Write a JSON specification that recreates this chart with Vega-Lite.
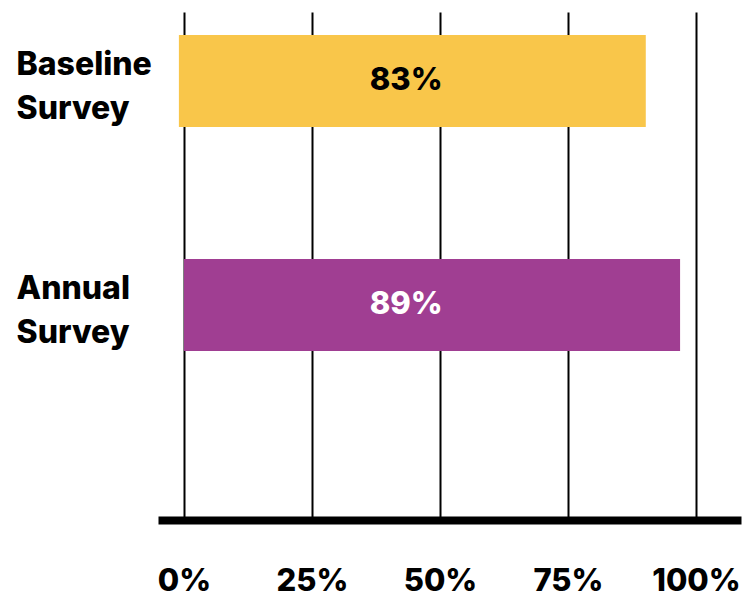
{
  "$schema": "https://vega.github.io/schema/vega-lite/v6.json",
  "autosize": {"type": "none"},
  "padding": {"left": 158, "top": 12, "right": 13, "bottom": 74},
  "width": 583,
  "height": 508,
  "background": "white",
  "config": {
    "view": {"stroke": null},
    "font": "Inter"
  },
  "data": {
    "values": [
      {"survey": "Baseline Survey", "start": -1, "end": 90.2, "label": "83%"},
      {"survey": "Annual Survey", "start": 0, "end": 96.9, "label": "89%"}
    ]
  },
  "encoding": {
    "y": {
      "field": "survey",
      "type": "nominal",
      "sort": ["Baseline Survey", "Annual Survey"],
      "scale": {"paddingInner": 0.5893, "paddingOuter": 0.4286, "align": 0.12},
      "axis": {
        "title": null,
        "domain": false,
        "ticks": false,
        "grid": false,
        "labelAlign": "left",
        "labelPadding": 142,
        "labelExpr": "split(datum.label, ' ')",
        "labelLineHeight": 44,
        "labelFont": "Inter",
        "labelFontSize": 32,
        "labelFontWeight": 800,
        "labelColor": "black",
        "labelBaseline": "middle",
        "labelOffset": -16
      }
    }
  },
  "layer": [
    {
      "mark": {"type": "bar"},
      "encoding": {
        "x": {
          "field": "start",
          "type": "quantitative",
          "scale": {"domain": [-5.08, 108.8], "nice": false, "zero": false},
          "axis": {
            "title": null,
            "values": [0, 25, 50, 75, 100],
            "labelExpr": "datum.value + '%'",
            "grid": true,
            "gridColor": "black",
            "gridWidth": 2,
            "gridOpacity": 1,
            "domainColor": "black",
            "domainWidth": 8,
            "ticks": false,
            "tickSize": 0,
            "labelPadding": 70,
            "labelBaseline": "alphabetic",
            "labelFont": "Inter",
            "labelFontSize": 31,
            "labelFontWeight": 800,
            "labelColor": "black"
          }
        },
        "x2": {"field": "end"},
        "color": {
          "field": "survey",
          "type": "nominal",
          "scale": {"domain": ["Baseline Survey", "Annual Survey"], "range": ["#F9C64A", "#A03E92"]},
          "legend": null
        }
      }
    },
    {
      "mark": {"type": "text", "font": "Inter", "fontSize": 31, "fontWeight": 800, "align": "center", "baseline": "middle"},
      "encoding": {
        "x": {"datum": 43.4, "type": "quantitative"},
        "text": {"field": "label"},
        "color": {
          "condition": {"test": "datum.survey === 'Annual Survey'", "value": "white"},
          "value": "black"
        }
      }
    }
  ]
}
